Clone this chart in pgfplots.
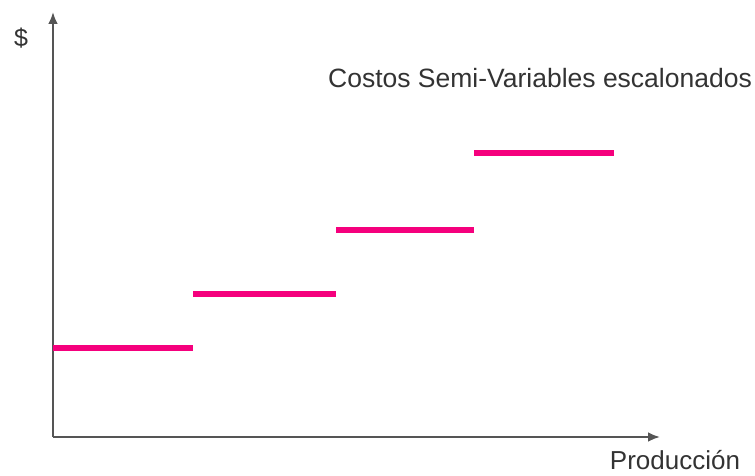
\documentclass[border=0pt]{standalone}
\usepackage{pgfplots}
\pgfplotsset{compat=1.18}
\usepackage{fontspec}
\setmainfont{Liberation Sans}
\usetikzlibrary{arrows.meta}
\definecolor{stepc}{HTML}{F5007D}
\definecolor{axc}{HTML}{555555}
\begin{document}
\begin{tikzpicture}[x=1pt,y=1pt]
\useasboundingbox (0,0) rectangle (755,475);
\begin{axis}[
  at={(53pt,38pt)}, anchor=south west,
  scale only axis, width=607pt, height=425pt,
  xmin=0, xmax=607, ymin=0, ymax=425,
  axis lines=left,
  axis line style={axc, line width=2.4pt, -{Latex[length=12pt,width=10pt]}},
  xtick=\empty, ytick=\empty,
  clip=false,
]
\addplot[stepc, line width=5.5pt, line cap=butt] coordinates {(0,89) (140,89)};
\addplot[stepc, line width=5.5pt, line cap=butt] coordinates {(140,143) (283,143)};
\addplot[stepc, line width=5.5pt, line cap=butt] coordinates {(283,207) (421,207)};
\addplot[stepc, line width=5.5pt, line cap=butt] coordinates {(421,284) (561,284)};
\end{axis}
\node[font=\fontsize{25}{28}\selectfont, text=black!80] at (21,437) {\$};
\node[font=\fontsize{26}{29}\selectfont, text=black!80, inner sep=0pt, anchor=base] at (675,6) {Producción};
\node[font=\fontsize{26.5}{29}\selectfont, text=black!80] at (540,397) {Costos Semi-Variables escalonados};
\end{tikzpicture}
\end{document}
